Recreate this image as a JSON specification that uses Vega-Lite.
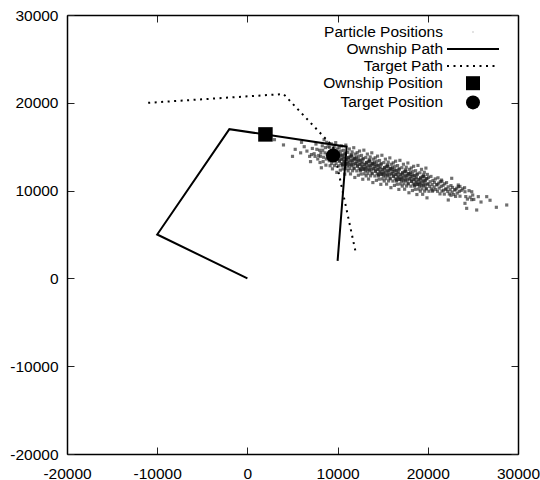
{
  "$schema": "https://vega.github.io/schema/vega-lite/v6.json",
  "width": 451,
  "height": 439,
  "autosize": {"type": "none"},
  "padding": {"left": 67, "top": 15, "right": 22, "bottom": 26},
  "background": "white",
  "config": {
    "font": "Liberation Sans",
    "view": {"stroke": null},
    "axis": {
      "grid": false,
      "title": null,
      "labelFont": "Liberation Sans",
      "labelFontSize": 15.5,
      "labelColor": "black",
      "tickSize": -7,
      "tickColor": "#222",
      "tickWidth": 1,
      "domainColor": "black",
      "domainWidth": 1.5
    },
    "legend": {
      "orient": "none", "legendX": 398, "legendY": 9, "padding": 0,
      "labelFont": "Liberation Sans", "labelFontSize": 15.5, "labelColor": "black", "labelAlign": "right", "labelOffset": -38, "labelLimit": 300,
      "symbolSize": 196, "symbolStrokeWidth": 2, "symbolOpacity": 1, "rowPadding": -2.8
    }
  },
  "datasets": {
    "particles": [
      {"x":9040,"y":14173},{"x":9080,"y":13400},{"x":9130,"y":14934},{"x":9170,"y":12832},{"x":9210,"y":14329},{"x":9260,"y":13763},{"x":9300,"y":15320},{"x":9350,"y":13104},{"x":9390,"y":14501},{"x":9430,"y":12478},{"x":9480,"y":13952},{"x":9520,"y":14680},{"x":9570,"y":13424},{"x":9610,"y":14991},{"x":9650,"y":12838},{"x":9700,"y":14082},{"x":9740,"y":13529},{"x":9790,"y":15463},{"x":9830,"y":13080},{"x":9870,"y":14258},{"x":9910,"y":12075},{"x":9950,"y":14742},{"x":9980,"y":13662},{"x":9020,"y":13660},{"x":9560,"y":14537},
      {"x":10040,"y":13643},{"x":10080,"y":14390},{"x":10130,"y":12824},{"x":10170,"y":14902},{"x":10210,"y":13379},{"x":10260,"y":13913},{"x":10300,"y":12330},{"x":10350,"y":14514},{"x":10390,"y":13091},{"x":10430,"y":15088},{"x":10480,"y":13582},{"x":10520,"y":12830},{"x":10570,"y":14054},{"x":10610,"y":12461},{"x":10650,"y":14588},{"x":10700,"y":13312},{"x":10740,"y":13839},{"x":10790,"y":11873},{"x":10830,"y":14230},{"x":10870,"y":13028},{"x":10910,"y":15185},{"x":10950,"y":12492},{"x":10980,"y":13552},{"x":10020,"y":14170},{"x":10560,"y":12947},
      {"x":10100,"y":13944},{"x":10190,"y":13365},{"x":10280,"y":14186},{"x":10370,"y":13558},{"x":10460,"y":14009},{"x":10550,"y":13000},{"x":10640,"y":13661},{"x":10730,"y":13292},{"x":10820,"y":14164},{"x":10900,"y":13008},
      {"x":11040,"y":13593},{"x":11080,"y":12820},{"x":11130,"y":14354},{"x":11170,"y":12252},{"x":11210,"y":13749},{"x":11260,"y":13183},{"x":11300,"y":14740},{"x":11350,"y":12524},{"x":11390,"y":13921},{"x":11430,"y":11898},{"x":11480,"y":13372},{"x":11520,"y":14100},{"x":11570,"y":12844},{"x":11610,"y":14411},{"x":11650,"y":12258},{"x":11700,"y":13502},{"x":11740,"y":12949},{"x":11790,"y":14883},{"x":11830,"y":12500},{"x":11870,"y":13678},{"x":11910,"y":11495},{"x":11950,"y":14162},{"x":11980,"y":13082},{"x":11020,"y":13080},{"x":11560,"y":13957},
      {"x":11100,"y":13254},{"x":11190,"y":13775},{"x":11280,"y":12896},{"x":11370,"y":13504},{"x":11460,"y":12959},{"x":11550,"y":13910},{"x":11640,"y":13191},{"x":11730,"y":13502},{"x":11820,"y":12574},{"x":11900,"y":13678},
      {"x":12040,"y":13063},{"x":12080,"y":13810},{"x":12130,"y":12244},{"x":12170,"y":14322},{"x":12210,"y":12799},{"x":12260,"y":13333},{"x":12300,"y":11750},{"x":12350,"y":13934},{"x":12390,"y":12511},{"x":12430,"y":14508},{"x":12480,"y":13002},{"x":12520,"y":12250},{"x":12570,"y":13474},{"x":12610,"y":11881},{"x":12650,"y":14008},{"x":12700,"y":12732},{"x":12740,"y":13259},{"x":12790,"y":11293},{"x":12830,"y":13650},{"x":12870,"y":12448},{"x":12910,"y":14605},{"x":12950,"y":11912},{"x":12980,"y":12972},{"x":12020,"y":13590},{"x":12560,"y":12367},
      {"x":12100,"y":13364},{"x":12190,"y":12785},{"x":12280,"y":13606},{"x":12370,"y":12978},{"x":12460,"y":13429},{"x":12550,"y":12420},{"x":12640,"y":13081},{"x":12730,"y":12712},{"x":12820,"y":13584},{"x":12900,"y":12428},
      {"x":13040,"y":13013},{"x":13080,"y":12240},{"x":13130,"y":13774},{"x":13170,"y":11672},{"x":13210,"y":13169},{"x":13260,"y":12603},{"x":13300,"y":14160},{"x":13350,"y":11944},{"x":13390,"y":13341},{"x":13430,"y":11318},{"x":13480,"y":12792},{"x":13520,"y":13520},{"x":13570,"y":12264},{"x":13610,"y":13831},{"x":13650,"y":11678},{"x":13700,"y":12922},{"x":13740,"y":12369},{"x":13790,"y":14303},{"x":13830,"y":11920},{"x":13870,"y":13098},{"x":13910,"y":10915},{"x":13950,"y":13582},{"x":13980,"y":12502},{"x":13020,"y":12500},{"x":13560,"y":13377},
      {"x":13100,"y":12674},{"x":13190,"y":13195},{"x":13280,"y":12316},{"x":13370,"y":12924},{"x":13460,"y":12379},{"x":13550,"y":13330},{"x":13640,"y":12611},{"x":13730,"y":12922},{"x":13820,"y":11994},{"x":13900,"y":13098},
      {"x":14040,"y":12483},{"x":14080,"y":13230},{"x":14130,"y":11664},{"x":14170,"y":13742},{"x":14210,"y":12219},{"x":14260,"y":12753},{"x":14300,"y":11170},{"x":14350,"y":13354},{"x":14390,"y":11931},{"x":14430,"y":13928},{"x":14480,"y":12422},{"x":14520,"y":11670},{"x":14570,"y":12894},{"x":14610,"y":11301},{"x":14650,"y":13428},{"x":14700,"y":12152},{"x":14740,"y":12679},{"x":14790,"y":10713},{"x":14830,"y":13070},{"x":14870,"y":11868},{"x":14910,"y":14025},{"x":14950,"y":11332},{"x":14980,"y":12392},{"x":14020,"y":13010},{"x":14560,"y":11787},
      {"x":14100,"y":12784},{"x":14190,"y":12205},{"x":14280,"y":13026},{"x":14370,"y":12398},{"x":14460,"y":12849},{"x":14550,"y":11840},{"x":14640,"y":12501},{"x":14730,"y":12132},{"x":14820,"y":13004},{"x":14900,"y":11848},
      {"x":15040,"y":12433},{"x":15080,"y":11660},{"x":15130,"y":13194},{"x":15170,"y":11092},{"x":15210,"y":12589},{"x":15260,"y":12023},{"x":15300,"y":13580},{"x":15350,"y":11364},{"x":15390,"y":12761},{"x":15430,"y":10738},{"x":15480,"y":12212},{"x":15520,"y":12940},{"x":15570,"y":11684},{"x":15610,"y":13251},{"x":15650,"y":11098},{"x":15700,"y":12342},{"x":15740,"y":11789},{"x":15790,"y":13723},{"x":15830,"y":11340},{"x":15870,"y":12518},{"x":15910,"y":10335},{"x":15950,"y":13002},{"x":15980,"y":11922},{"x":15020,"y":11920},{"x":15560,"y":12797},
      {"x":15100,"y":12094},{"x":15190,"y":12615},{"x":15280,"y":11736},{"x":15370,"y":12344},{"x":15460,"y":11799},{"x":15550,"y":12750},{"x":15640,"y":12031},{"x":15730,"y":12342},{"x":15820,"y":11414},{"x":15900,"y":12518},
      {"x":16040,"y":11903},{"x":16080,"y":12650},{"x":16130,"y":11084},{"x":16170,"y":13162},{"x":16210,"y":11639},{"x":16260,"y":12173},{"x":16300,"y":10590},{"x":16350,"y":12774},{"x":16390,"y":11351},{"x":16430,"y":13348},{"x":16480,"y":11842},{"x":16520,"y":11090},{"x":16570,"y":12314},{"x":16610,"y":10721},{"x":16650,"y":12848},{"x":16700,"y":11572},{"x":16740,"y":12099},{"x":16790,"y":10133},{"x":16830,"y":12490},{"x":16870,"y":11288},{"x":16910,"y":13445},{"x":16950,"y":10752},{"x":16980,"y":11812},{"x":16020,"y":12430},{"x":16560,"y":11207},
      {"x":16100,"y":12204},{"x":16190,"y":11625},{"x":16280,"y":12446},{"x":16370,"y":11818},{"x":16460,"y":12269},{"x":16550,"y":11260},{"x":16640,"y":11921},{"x":16730,"y":11552},{"x":16820,"y":12424},{"x":16900,"y":11268},
      {"x":17040,"y":11853},{"x":17080,"y":11080},{"x":17130,"y":12614},{"x":17170,"y":10512},{"x":17210,"y":12009},{"x":17260,"y":11443},{"x":17300,"y":13000},{"x":17350,"y":10784},{"x":17390,"y":12181},{"x":17430,"y":10158},{"x":17480,"y":11632},{"x":17520,"y":12360},{"x":17570,"y":11104},{"x":17610,"y":12671},{"x":17650,"y":10518},{"x":17700,"y":11762},{"x":17740,"y":11209},{"x":17790,"y":13143},{"x":17830,"y":10760},{"x":17870,"y":11938},{"x":17910,"y":9755},{"x":17950,"y":12422},{"x":17980,"y":11342},{"x":17020,"y":11340},{"x":17560,"y":12217},
      {"x":17100,"y":11514},{"x":17190,"y":12035},{"x":17280,"y":11156},{"x":17370,"y":11764},{"x":17460,"y":11219},{"x":17550,"y":12170},{"x":17640,"y":11451},{"x":17730,"y":11762},{"x":17820,"y":10834},{"x":17900,"y":11938},
      {"x":18040,"y":11323},{"x":18080,"y":12070},{"x":18130,"y":10504},{"x":18170,"y":12582},{"x":18210,"y":11059},{"x":18260,"y":11593},{"x":18300,"y":10010},{"x":18350,"y":12194},{"x":18390,"y":10771},{"x":18430,"y":12768},{"x":18480,"y":11262},{"x":18520,"y":10510},{"x":18570,"y":11734},{"x":18610,"y":10141},{"x":18650,"y":12268},{"x":18700,"y":10992},{"x":18740,"y":11519},{"x":18790,"y":9553},{"x":18830,"y":11910},{"x":18870,"y":10708},{"x":18910,"y":12865},{"x":18950,"y":10172},{"x":18980,"y":11232},{"x":18020,"y":11850},{"x":18560,"y":10627},
      {"x":18100,"y":11624},{"x":18190,"y":11045},{"x":18280,"y":11866},{"x":18370,"y":11238},{"x":18460,"y":11689},{"x":18550,"y":10680},{"x":18640,"y":11341},{"x":18730,"y":10972},{"x":18820,"y":11844},{"x":18900,"y":10688},
      {"x":19040,"y":11273},{"x":19080,"y":10500},{"x":19130,"y":12034},{"x":19170,"y":9932},{"x":19210,"y":11429},{"x":19260,"y":10863},{"x":19300,"y":12420},{"x":19350,"y":10204},{"x":19390,"y":11601},{"x":19430,"y":9578},{"x":19480,"y":11052},{"x":19520,"y":11780},{"x":19570,"y":10524},{"x":19610,"y":12091},{"x":19650,"y":9938},{"x":19700,"y":11182},{"x":19740,"y":10629},{"x":19790,"y":12563},{"x":19830,"y":10180},{"x":19870,"y":11358},{"x":19910,"y":9175},{"x":19950,"y":11842},{"x":19980,"y":10762},{"x":19020,"y":10760},{"x":19560,"y":11637},
      {"x":19100,"y":10934},{"x":19190,"y":11455},{"x":19280,"y":10576},{"x":19370,"y":11184},{"x":19460,"y":10639},{"x":19550,"y":11590},{"x":19640,"y":10871},{"x":19730,"y":11182},{"x":19820,"y":10254},{"x":19900,"y":11358},
      {"x":20040,"y":10743},{"x":20080,"y":11490},{"x":20130,"y":9924},{"x":20210,"y":10479},{"x":20260,"y":11013},{"x":20350,"y":11614},{"x":20390,"y":10191},{"x":20480,"y":10682},{"x":20520,"y":9930},{"x":20570,"y":11154},{"x":20700,"y":10412},{"x":20740,"y":10939},{"x":20830,"y":11330},{"x":20870,"y":10128},{"x":20980,"y":10652},{"x":20560,"y":10047},
      {"x":21040,"y":10693},{"x":21080,"y":9920},{"x":21130,"y":11454},{"x":21210,"y":10849},{"x":21260,"y":10283},{"x":21350,"y":9624},{"x":21390,"y":11021},{"x":21480,"y":10472},{"x":21520,"y":11200},{"x":21570,"y":9944},{"x":21700,"y":10602},{"x":21740,"y":10049},{"x":21830,"y":9600},{"x":21870,"y":10778},{"x":21980,"y":10182},{"x":21560,"y":11057},
      {"x":22040,"y":10163},{"x":22080,"y":10910},{"x":22210,"y":9899},{"x":22260,"y":10433},{"x":22390,"y":9611},{"x":22480,"y":10102},{"x":22570,"y":10574},{"x":22700,"y":9832},{"x":22740,"y":10359},{"x":22870,"y":9548},{"x":22980,"y":10072},{"x":22560,"y":9467},
      {"x":23040,"y":10113},{"x":23080,"y":9340},{"x":23210,"y":10269},{"x":23260,"y":9703},{"x":23390,"y":10441},{"x":23480,"y":9892},{"x":23570,"y":9364},{"x":23700,"y":10022},{"x":23870,"y":10198},{"x":23560,"y":10477},
      {"x":24080,"y":10330},{"x":24210,"y":9319},{"x":24390,"y":9031},{"x":24570,"y":9994},{"x":24700,"y":9252},{"x":24870,"y":8968},{"x":24980,"y":9492},
      {"x":22650,"y":11400},{"x":23380,"y":10640},{"x":24120,"y":9870},{"x":24870,"y":9870},{"x":25600,"y":9310},{"x":26530,"y":9310},{"x":24120,"y":8550},{"x":22270,"y":8930},{"x":24310,"y":7980},{"x":25420,"y":7790},{"x":28750,"y":8360},{"x":25100,"y":9000},{"x":25900,"y":8700},{"x":26900,"y":8900},{"x":27600,"y":8100},
      {"x":3000,"y":15800},{"x":4000,"y":15200},{"x":5000,"y":13900},{"x":5300,"y":14700},{"x":5900,"y":14300},{"x":6000,"y":15500},{"x":6300,"y":15000},{"x":6600,"y":14500},{"x":6900,"y":13900},{"x":7000,"y":13300},{"x":7200,"y":14800},{"x":7400,"y":14200},{"x":7600,"y":15300},{"x":7800,"y":13600},{"x":8000,"y":14600},{"x":8100,"y":13900},{"x":8200,"y":12600},{"x":8300,"y":15100},{"x":8400,"y":13300},{"x":8500,"y":15800},{"x":8600,"y":14300},{"x":8700,"y":12900},{"x":8800,"y":15500},{"x":8900,"y":13800},
      {"x":7100,"y":14100},{"x":7500,"y":13900},{"x":7700,"y":14700},{"x":7900,"y":14000},{"x":8150,"y":14300},{"x":8350,"y":14600},{"x":8450,"y":13800},{"x":8650,"y":14900},{"x":8750,"y":13600},{"x":8850,"y":14100},{"x":8950,"y":15000},{"x":8050,"y":13200}
    ],
    "ownship": [
      {"i":0,"x":0,"y":0},{"i":1,"x":-10000,"y":5000},{"i":2,"x":-2000,"y":17000},{"i":3,"x":11000,"y":15000},{"i":4,"x":10000,"y":2000}
    ],
    "target": [
      {"i":0,"x":-11000,"y":20000},{"i":1,"x":4000,"y":21000},{"i":2,"x":9500,"y":15000},{"i":3,"x":12000,"y":3000}
    ],
    "ownpos": [{"x":2000,"y":16400}],
    "tgtpos": [{"x":9500,"y":14000}]
  },
  "layer": [
    {
      "data": {"name": "particles"},
      "mark": {"type": "point", "shape": "square", "filled": true, "size": 10, "opacity": 0.65, "strokeWidth": 0, "color": "#222222"},
      "encoding": {
        "x": {"field": "x", "type": "quantitative", "scale": {"domain": [-20000, 30000], "nice": false, "zero": false},
              "axis": {"orient": "bottom", "values": [-20000, -10000, 0, 10000, 20000, 30000], "labelPadding": 19, "labelExpr": "'' + datum.value", "labelFlush": false, "labelOverlap": false}},
        "y": {"field": "y", "type": "quantitative", "scale": {"domain": [-20000, 30000], "nice": false, "zero": false},
              "axis": {"orient": "left", "values": [-20000, -10000, 0, 10000, 20000, 30000], "labelPadding": 16, "labelExpr": "'' + datum.value", "labelFlush": false, "labelOverlap": false}}
      }
    },
    {
      "data": {"name": "ownship"},
      "mark": {"type": "line", "strokeWidth": 2, "color": "black"},
      "encoding": {
        "x": {"field": "x", "type": "quantitative", "scale": {"domain": [-20000, 30000], "nice": false, "zero": false}, "axis": null},
        "y": {"field": "y", "type": "quantitative", "scale": {"domain": [-20000, 30000], "nice": false, "zero": false}, "axis": null},
        "order": {"field": "i", "type": "quantitative"}
      }
    },
    {
      "data": {"name": "target"},
      "mark": {"type": "line", "strokeWidth": 2, "strokeDash": [2, 4.5], "color": "black"},
      "encoding": {
        "x": {"field": "x", "type": "quantitative", "scale": {"domain": [-20000, 30000], "nice": false, "zero": false}, "axis": null},
        "y": {"field": "y", "type": "quantitative", "scale": {"domain": [-20000, 30000], "nice": false, "zero": false}, "axis": null},
        "order": {"field": "i", "type": "quantitative"}
      }
    },
    {
      "data": {"name": "ownpos"},
      "mark": {"type": "point", "shape": "square", "filled": true, "size": 210, "opacity": 1, "strokeWidth": 0, "color": "black"},
      "encoding": {
        "x": {"field": "x", "type": "quantitative", "scale": {"domain": [-20000, 30000], "nice": false, "zero": false}, "axis": null},
        "y": {"field": "y", "type": "quantitative", "scale": {"domain": [-20000, 30000], "nice": false, "zero": false}, "axis": null}
      }
    },
    {
      "data": {"name": "tgtpos"},
      "mark": {"type": "point", "shape": "circle", "filled": true, "size": 200, "opacity": 1, "strokeWidth": 0, "color": "black"},
      "encoding": {
        "x": {"field": "x", "type": "quantitative", "scale": {"domain": [-20000, 30000], "nice": false, "zero": false}, "axis": null},
        "y": {"field": "y", "type": "quantitative", "scale": {"domain": [-20000, 30000], "nice": false, "zero": false}, "axis": null}
      }
    },
    {
      "data": {"name": "tgtpos"},
      "mark": {"type": "point", "opacity": 0},
      "encoding": {
        "x": {"field": "x", "type": "quantitative", "scale": {"domain": [-20000, 30000], "nice": false, "zero": false},
              "axis": {"orient": "top", "values": [-20000, -10000, 0, 10000, 20000, 30000], "labels": false}},
        "y": {"field": "y", "type": "quantitative", "scale": {"domain": [-20000, 30000], "nice": false, "zero": false},
              "axis": {"orient": "right", "values": [-20000, -10000, 0, 10000, 20000, 30000], "labels": false}},
        "fill": {"datum": "Particle Positions", "type": "nominal",
                 "scale": {"domain": ["Particle Positions", "Ownship Path", "Target Path", "Ownship Position", "Target Position"], "range": ["#999999", "transparent", "transparent", "black", "black"]},
                 "legend": {"title": null}},
        "stroke": {"datum": "Particle Positions", "type": "nominal",
                 "scale": {"domain": ["Particle Positions", "Ownship Path", "Target Path", "Ownship Position", "Target Position"], "range": ["transparent", "black", "black", "transparent", "transparent"]},
                 "legend": {"title": null}},
        "shape": {"datum": "Particle Positions", "type": "nominal",
                 "scale": {"domain": ["Particle Positions", "Ownship Path", "Target Path", "Ownship Position", "Target Position"], "range": ["M-0.08,-0.08H0.08V0.08H-0.08Z", "M-3.714,0H3.714", "M-3.714,0H3.714", "square", "circle"]},
                 "legend": {"title": null}},
        "strokeDash": {"datum": "Particle Positions", "type": "nominal",
                 "scale": {"domain": ["Particle Positions", "Ownship Path", "Target Path", "Ownship Position", "Target Position"], "range": [[1, 0], [1, 0], [2, 4.5], [1, 0], [1, 0]]},
                 "legend": {"title": null}}
      }
    }
  ],
  "resolve": {"axis": {"x": "independent", "y": "independent"}}
}
